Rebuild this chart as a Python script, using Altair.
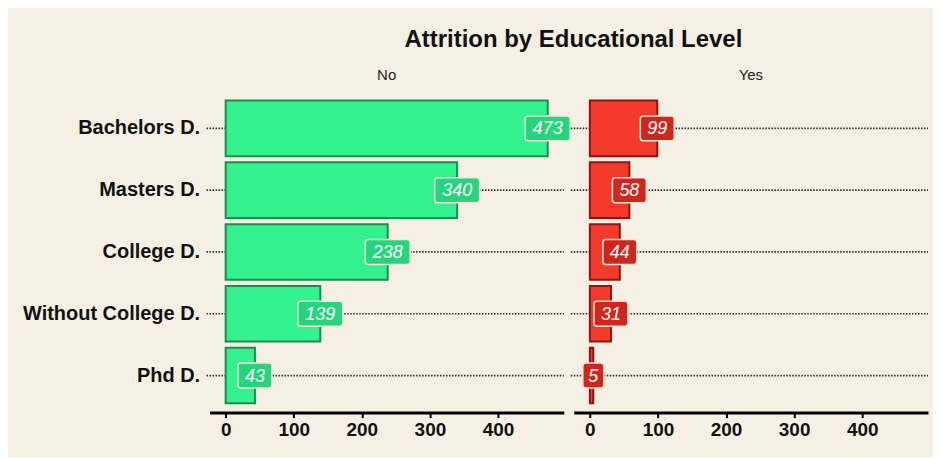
import altair as alt
import pandas as pd

categories = ["Bachelors D.", "Masters D.", "College D.", "Without College D.", "Phd D."]
attrition = ["No", "Yes"]
no_counts = [473, 340, 238, 139, 43]
yes_counts = [99, 58, 44, 31, 5]
x_ticks = [0, 100, 200, 300, 400]

rows = []
for a, counts in zip(attrition, [no_counts, yes_counts]):
    for c, v in zip(categories, counts):
        rows.append({"level": c, "attrition": a, "count": v, "digits": str(len(str(v)))})
df = pd.DataFrame(rows)

FONT = "Liberation Sans"
PW, PH = 355, 322
GREEN, RED = "#33f28d", "#f43b2b"
GREEN_D, RED_D = "#1e8c4e", "#8e1414"
GREEN_L, RED_L = "#27d47e", "#cf261d"


def box(hw, hh, r):
    return (f"M{-hw + r},{-hh}L{hw - r},{-hh}Q{hw},{-hh} {hw},{-hh + r}"
            f"L{hw},{hh - r}Q{hw},{hh} {hw - r},{hh}L{-hw + r},{hh}"
            f"Q{-hw},{hh} {-hw},{hh - r}L{-hw},{-hh + r}Q{-hw},{-hh} {-hw + r},{-hh}Z")

BASE = 48.0
hh = 12.5 / (BASE / 2)
rr = 3 / (BASE / 2)
shapes = [box(w / 2 / (BASE / 2), hh, rr) for w in (21, 34, 45)]

x_scale = alt.Scale(domain=[-23.65, 496.65], nice=False, zero=False)
x_axis = alt.Axis(title=None, values=x_ticks, format="d", grid=False,
                  domainColor="black", domainWidth=3, tickColor="black",
                  tickWidth=2, tickSize=5, labelFont=FONT, labelFontSize=19,
                  labelFontWeight="bold", labelColor="#111", labelPadding=3)
x_enc = alt.X("count:Q", scale=x_scale, axis=x_axis)
y_enc = alt.Y("level:N", sort=categories,
              scale=alt.Scale(paddingInner=0.1, paddingOuter=0.15),
              axis=alt.Axis(title=None, labelFont=FONT, labelFontSize=20,
                            labelFontWeight="bold", labelColor="#111",
                            ticks=False, domain=False, grid=False, labelPadding=10))

is_no = "datum.attrition == 'No'"

rules = alt.Chart().mark_rule(strokeDash=[1.5, 1.5], strokeWidth=1.7, color="#2a2a2a").encode(
    y=y_enc, x=alt.value(-3), x2=alt.value(PW))

bars = alt.Chart().mark_bar(strokeWidth=2).encode(
    x=x_enc, y=y_enc,
    fill=alt.condition(is_no, alt.value(GREEN), alt.value(RED)),
    stroke=alt.condition(is_no, alt.value(GREEN_D), alt.value(RED_D)))

boxes = alt.Chart().mark_point(filled=True, size=BASE * BASE, strokeWidth=1.5, opacity=1).encode(
    x=x_enc, y=y_enc,
    shape=alt.Shape("digits:N", scale=alt.Scale(domain=["1", "2", "3"], range=shapes), legend=None),
    fill=alt.condition(is_no, alt.value(GREEN_L), alt.value(RED_L)),
    stroke=alt.value("#f3e6d6"))

texts = alt.Chart().mark_text(font=FONT, fontStyle="italic", fontSize=18, color="white",
                              align="center", baseline="middle", dy=1).encode(
    x=x_enc, y=y_enc, text="count:Q")

layer = alt.layer(rules, bars, boxes, texts).properties(width=PW, height=PH)

chart = layer.facet(
    column=alt.Column("attrition:N", sort=attrition,
                      header=alt.Header(title=None, labelFont=FONT, labelFontSize=15,
                                        labelColor="#222", labelPadding=8)),
    data=df, spacing=10, bounds="flush",
).properties(
    title=alt.TitleParams("Attrition by Educational Level", font=FONT, fontSize=24,
                          fontWeight="bold", color="#111", anchor="middle", offset=14,
                          dx=98, dy=-2),
    padding={"left": 14, "top": 20, "right": 4, "bottom": 17},
).configure(background="#f6f0e4").configure_view(stroke=None)

chart.save("out.html", embed_options={"renderer": "svg", "actions": False})
